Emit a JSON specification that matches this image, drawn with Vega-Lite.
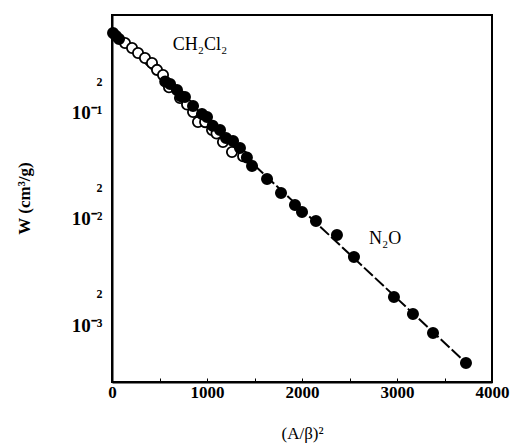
{
  "$schema": "https://vega.github.io/schema/vega-lite/v6.json",
  "width": 380,
  "height": 367,
  "autosize": {"type": "none"},
  "padding": {"left": 112, "top": 15, "right": 25, "bottom": 61},
  "background": "white",
  "config": {
    "view": {"stroke": "black", "strokeWidth": 2},
    "font": "Liberation Serif"
  },
  "datasets": {
    "pts": [
      {"x": 137, "w": 0.457, "gas": "CH2Cl2"},
      {"x": 211, "w": 0.41, "gas": "CH2Cl2"},
      {"x": 274, "w": 0.368, "gas": "CH2Cl2"},
      {"x": 347, "w": 0.33, "gas": "CH2Cl2"},
      {"x": 421, "w": 0.296, "gas": "CH2Cl2"},
      {"x": 474, "w": 0.255, "gas": "CH2Cl2"},
      {"x": 537, "w": 0.228, "gas": "CH2Cl2"},
      {"x": 600, "w": 0.175, "gas": "CH2Cl2"},
      {"x": 716, "w": 0.1387, "gas": "CH2Cl2"},
      {"x": 790, "w": 0.12, "gas": "CH2Cl2"},
      {"x": 853, "w": 0.102, "gas": "CH2Cl2"},
      {"x": 905, "w": 0.0822, "gas": "CH2Cl2"},
      {"x": 980, "w": 0.082, "gas": "CH2Cl2"},
      {"x": 1053, "w": 0.0692, "gas": "CH2Cl2"},
      {"x": 1100, "w": 0.064, "gas": "CH2Cl2"},
      {"x": 1168, "w": 0.0532, "gas": "CH2Cl2"},
      {"x": 1263, "w": 0.0429, "gas": "CH2Cl2"},
      {"x": 1380, "w": 0.039, "gas": "CH2Cl2"},
      {"x": 11, "w": 0.569, "gas": "N2O"},
      {"x": 42, "w": 0.532, "gas": "N2O"},
      {"x": 74, "w": 0.499, "gas": "N2O"},
      {"x": 560, "w": 0.198, "gas": "N2O"},
      {"x": 611, "w": 0.188, "gas": "N2O"},
      {"x": 684, "w": 0.165, "gas": "N2O"},
      {"x": 725, "w": 0.144, "gas": "N2O"},
      {"x": 768, "w": 0.1416, "gas": "N2O"},
      {"x": 853, "w": 0.1164, "gas": "N2O"},
      {"x": 947, "w": 0.0979, "gas": "N2O"},
      {"x": 1000, "w": 0.0917, "gas": "N2O"},
      {"x": 1060, "w": 0.0759, "gas": "N2O"},
      {"x": 1137, "w": 0.0692, "gas": "N2O"},
      {"x": 1200, "w": 0.058, "gas": "N2O"},
      {"x": 1274, "w": 0.0545, "gas": "N2O"},
      {"x": 1347, "w": 0.0468, "gas": "N2O"},
      {"x": 1420, "w": 0.038, "gas": "N2O"},
      {"x": 1474, "w": 0.0316, "gas": "N2O"},
      {"x": 1632, "w": 0.0238, "gas": "N2O"},
      {"x": 1779, "w": 0.0176, "gas": "N2O"},
      {"x": 1926, "w": 0.01355, "gas": "N2O"},
      {"x": 2000, "w": 0.01164, "gas": "N2O"},
      {"x": 2147, "w": 0.00957, "gas": "N2O"},
      {"x": 2368, "w": 0.00706, "gas": "N2O"},
      {"x": 2547, "w": 0.00439, "gas": "N2O"},
      {"x": 2968, "w": 0.00184, "gas": "N2O"},
      {"x": 3168, "w": 0.00127, "gas": "N2O"},
      {"x": 3379, "w": 0.000841, "gas": "N2O"},
      {"x": 3726, "w": 0.000439, "gas": "N2O"}
    ],
    "fit": [
      {"x": 0, "w": 0.58},
      {"x": 3726, "w": 0.000439}
    ],
    "labels": [
      {"x": 926, "w": 0.439, "label": "CH₂Cl₂"},
      {"x": 2874, "w": 0.00647, "label": "N₂O"}
    ]
  },
  "layer": [
    {
      "data": {"name": "fit"},
      "mark": {"type": "line", "color": "black", "strokeWidth": 2, "strokeDash": [12, 3]},
      "encoding": {
        "x": {
          "field": "x", "type": "quantitative",
          "scale": {"domain": [0, 4000], "nice": false},
          "axis": {
            "title": "(A/β)²",
            "titleFontSize": 17, "titleFontWeight": "normal", "titleColor": "black",
            "titleX": 190, "titleY": 51, "titleAlign": "center", "titleBaseline": "middle",
            "values": [0, 500, 1000, 1500, 2000, 2500, 3000, 3500, 4000],
            "labelExpr": "datum.value % 1000 == 0 ? datum.label : ''",
            "format": "d",
            "labelFontSize": 17, "labelFontWeight": "bold", "labelColor": "black",
            "labelPadding": 6, "labelOverlap": false, "labelFlush": false,
            "tickSize": -4, "tickColor": "black", "tickWidth": 1,
            "domainColor": "black", "domainWidth": 2, "grid": false
          }
        },
        "y": {
          "field": "w", "type": "quantitative",
          "scale": {"type": "log", "domain": [0.00029, 0.84], "nice": false},
          "axis": {
            "title": "W (cm³/g)",
            "titleFontSize": 17, "titleFontWeight": "bold", "titleColor": "black",
            "titleAngle": -90, "titleX": -88, "titleY": 183, "titleAlign": "center", "titleBaseline": "middle",
            "values": [0.001, 0.002, 0.01, 0.02, 0.1, 0.2],
            "labelExpr": "(datum.value > 0.15 || (datum.value > 0.015 && datum.value < 0.05) || (datum.value > 0.0015 && datum.value < 0.005)) ? '2' : (datum.value > 0.05 ? '10⁻¹' : (datum.value > 0.005 ? '10⁻²' : '10⁻³'))",
            "labelFontSize": {"condition": {"test": "datum.value == 0.2 || datum.value == 0.02 || datum.value == 0.002", "value": 12}, "value": 19},
            "labelFontWeight": "bold", "labelColor": "black",
            "labelPadding": 10, "labelOverlap": false, "labelFlush": false,
            "ticks": false,
            "domainColor": "black", "domainWidth": 2, "grid": false
          }
        }
      }
    },
    {
      "data": {"name": "pts"},
      "mark": {"type": "point", "shape": "circle", "size": 105, "stroke": "black", "strokeWidth": 1.8, "opacity": 1},
      "encoding": {
        "x": {"field": "x", "type": "quantitative"},
        "y": {"field": "w", "type": "quantitative"},
        "fill": {
          "field": "gas", "type": "nominal",
          "scale": {"domain": ["CH2Cl2", "N2O"], "range": ["white", "black"]},
          "legend": null
        }
      }
    },
    {
      "data": {"name": "labels"},
      "mark": {"type": "text", "fontSize": 18, "color": "black", "align": "center", "baseline": "middle"},
      "encoding": {
        "x": {"field": "x", "type": "quantitative"},
        "y": {"field": "w", "type": "quantitative"},
        "text": {"field": "label"}
      }
    }
  ]
}
